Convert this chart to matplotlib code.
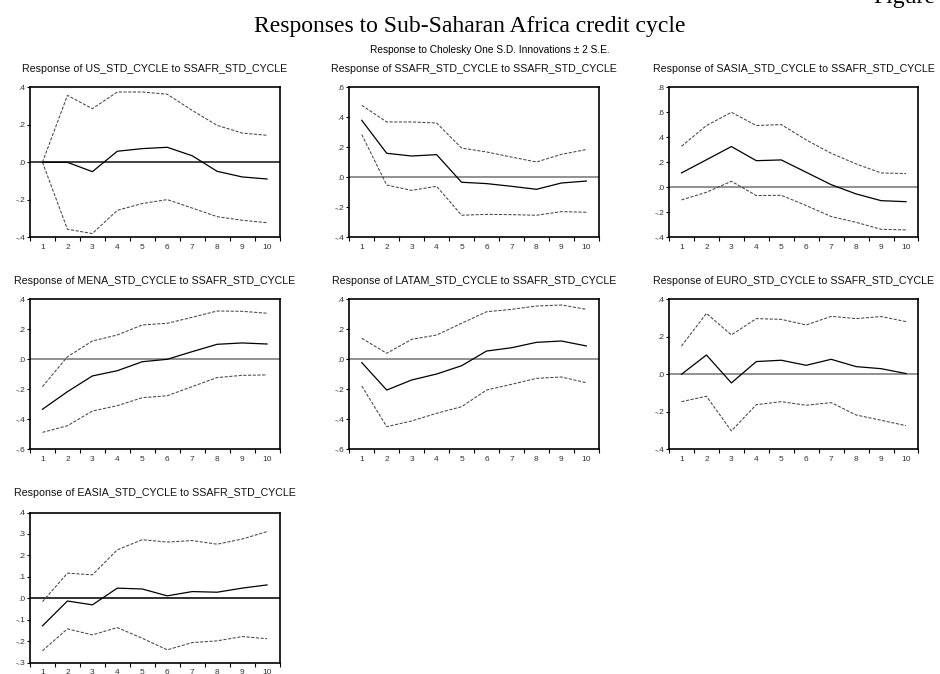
import numpy as np
import matplotlib
matplotlib.use("Agg")
import matplotlib.pyplot as plt
from matplotlib.ticker import FuncFormatter

plt.rcParams['font.family'] = ['Liberation Sans', 'DejaVu Sans']

periods = np.arange(1, 11)

titles = [
    "Response of US_STD_CYCLE to SSAFR_STD_CYCLE",
    "Response of SSAFR_STD_CYCLE to SSAFR_STD_CYCLE",
    "Response of SASIA_STD_CYCLE to SSAFR_STD_CYCLE",
    "Response of MENA_STD_CYCLE to SSAFR_STD_CYCLE",
    "Response of LATAM_STD_CYCLE to SSAFR_STD_CYCLE",
    "Response of EURO_STD_CYCLE to SSAFR_STD_CYCLE",
    "Response of EASIA_STD_CYCLE to SSAFR_STD_CYCLE",
]

# impulse responses (point estimate, +2 S.E., -2 S.E.)
us_resp = [0.0, 0.0, -0.05, 0.059, 0.073, 0.08, 0.035, -0.048, -0.078, -0.089]
us_hi = [0.0, 0.357, 0.286, 0.375, 0.375, 0.363, 0.277, 0.197, 0.156, 0.144]
us_lo = [0.0, -0.357, -0.38, -0.256, -0.22, -0.199, -0.244, -0.29, -0.309, -0.322]

ssafr_resp = [0.38, 0.16, 0.142, 0.151, -0.033, -0.042, -0.06, -0.08, -0.038, -0.025]
ssafr_hi = [0.48, 0.369, 0.369, 0.362, 0.195, 0.169, 0.135, 0.102, 0.153, 0.185]
ssafr_lo = [0.285, -0.052, -0.087, -0.06, -0.253, -0.247, -0.249, -0.253, -0.229, -0.233]

sasia_resp = [0.115, 0.22, 0.326, 0.213, 0.219, 0.12, 0.021, -0.053, -0.107, -0.115]
sasia_hi = [0.328, 0.494, 0.6, 0.494, 0.502, 0.379, 0.272, 0.187, 0.115, 0.11]
sasia_lo = [-0.101, -0.04, 0.048, -0.066, -0.064, -0.146, -0.234, -0.28, -0.336, -0.341]

mena_resp = [-0.333, -0.216, -0.111, -0.076, -0.016, 0.0, 0.051, 0.1, 0.109, 0.102]
mena_hi = [-0.182, 0.017, 0.122, 0.162, 0.229, 0.24, 0.28, 0.322, 0.32, 0.307]
mena_lo = [-0.487, -0.443, -0.345, -0.309, -0.256, -0.243, -0.182, -0.122, -0.107, -0.104]

latam_resp = [-0.022, -0.205, -0.138, -0.098, -0.043, 0.055, 0.077, 0.113, 0.122, 0.089]
latam_hi = [0.14, 0.04, 0.133, 0.162, 0.24, 0.317, 0.333, 0.355, 0.362, 0.333]
latam_lo = [-0.178, -0.449, -0.411, -0.36, -0.316, -0.205, -0.167, -0.127, -0.118, -0.156]

euro_resp = [0.0, 0.103, -0.046, 0.068, 0.075, 0.048, 0.08, 0.041, 0.03, 0.004]
euro_hi = [0.151, 0.325, 0.21, 0.297, 0.293, 0.263, 0.309, 0.297, 0.308, 0.281]
euro_lo = [-0.146, -0.117, -0.302, -0.162, -0.146, -0.165, -0.151, -0.217, -0.245, -0.274]

easia_resp = [-0.129, -0.013, -0.031, 0.047, 0.043, 0.011, 0.031, 0.028, 0.047, 0.062]
easia_hi = [-0.016, 0.117, 0.109, 0.226, 0.273, 0.262, 0.269, 0.252, 0.276, 0.311]
easia_lo = [-0.245, -0.143, -0.171, -0.137, -0.187, -0.241, -0.207, -0.199, -0.179, -0.189]

responses = [us_resp, ssafr_resp, sasia_resp, mena_resp, latam_resp, euro_resp, easia_resp]
uppers = [us_hi, ssafr_hi, sasia_hi, mena_hi, latam_hi, euro_hi, easia_hi]
lowers = [us_lo, ssafr_lo, sasia_lo, mena_lo, latam_lo, euro_lo, easia_lo]

y_ranges = [(-0.4, 0.4), (-0.4, 0.6), (-0.4, 0.8), (-0.6, 0.4), (-0.6, 0.4), (-0.4, 0.4), (-0.3, 0.4)]
y_steps = [0.2, 0.2, 0.2, 0.2, 0.2, 0.2, 0.1]
zero_colors = ['#333333', '#888888', '#888888', '#888888', '#888888', '#888888', '#222222']

W, H = 940, 674
fig = plt.figure(figsize=(W / 100, H / 100), dpi=100)

col_left = [30, 349.3, 669]
row_top = [87.3, 299.3, 512.5]
box_w, box_h = 249.5, 150


def tick_fmt(v, pos):
    v = round(v, 6)
    if abs(v) < 1e-9:
        return ".0"
    s = "%.1f" % v
    return s.replace("0.", ".", 1)


for i in range(7):
    r, c = divmod(i, 3)
    left, top = col_left[c], row_top[r]
    ax = fig.add_axes([left / W, 1 - (top + box_h) / H, box_w / W, box_h / H])
    ax.axhline(0, color=zero_colors[i], lw=1.3, zorder=1)
    ax.plot(periods, uppers[i], color='#444444', lw=0.75, dashes=(3, 1.5))
    ax.plot(periods, lowers[i], color='#444444', lw=0.75, dashes=(3, 1.5))
    ax.plot(periods, responses[i], color='black', lw=0.9)
    lo, hi = y_ranges[i]
    ax.set_ylim(lo, hi)
    ax.set_xlim(0.5, 10.5)
    ax.set_yticks(np.arange(lo, hi + 1e-9, y_steps[i]))
    ax.yaxis.set_major_formatter(FuncFormatter(tick_fmt))
    ax.set_xticks(periods)
    ax.set_xticks(np.arange(0.5, 11, 1), minor=True)
    ax.tick_params(axis='x', which='major', length=0, pad=5, labelsize=6, labelcolor='#333333')
    ax.tick_params(axis='x', which='minor', length=3, width=0.8, direction='out')
    ax.tick_params(axis='y', length=2.5, width=0.8, pad=1, labelsize=6, labelcolor='#333333')
    for sp in ax.spines.values():
        sp.set_linewidth(1.2)
    fig.text((left + box_w / 2) / W, 1 - (71.7 + 212 * r) / H, titles[i],
             ha='center', va='baseline', fontsize=7.7, color='#111111')

fig.text(469.6 / W, 1 - 32 / H, "Responses to Sub-Saharan Africa credit cycle",
         ha='center', va='baseline', fontsize=17, family=['Liberation Serif', 'DejaVu Serif'])
fig.text(490 / W, 1 - 53.3 / H, "Response to Cholesky One S.D. Innovations \u00b1 2 S.E.",
         ha='center', va='baseline', fontsize=7.3)
fig.text(873 / W, 1 - 3.5 / H, "Figure", ha='left', va='baseline', fontsize=17,
         family=['Liberation Serif', 'DejaVu Serif'])

fig.savefig("out.png", dpi=100)
